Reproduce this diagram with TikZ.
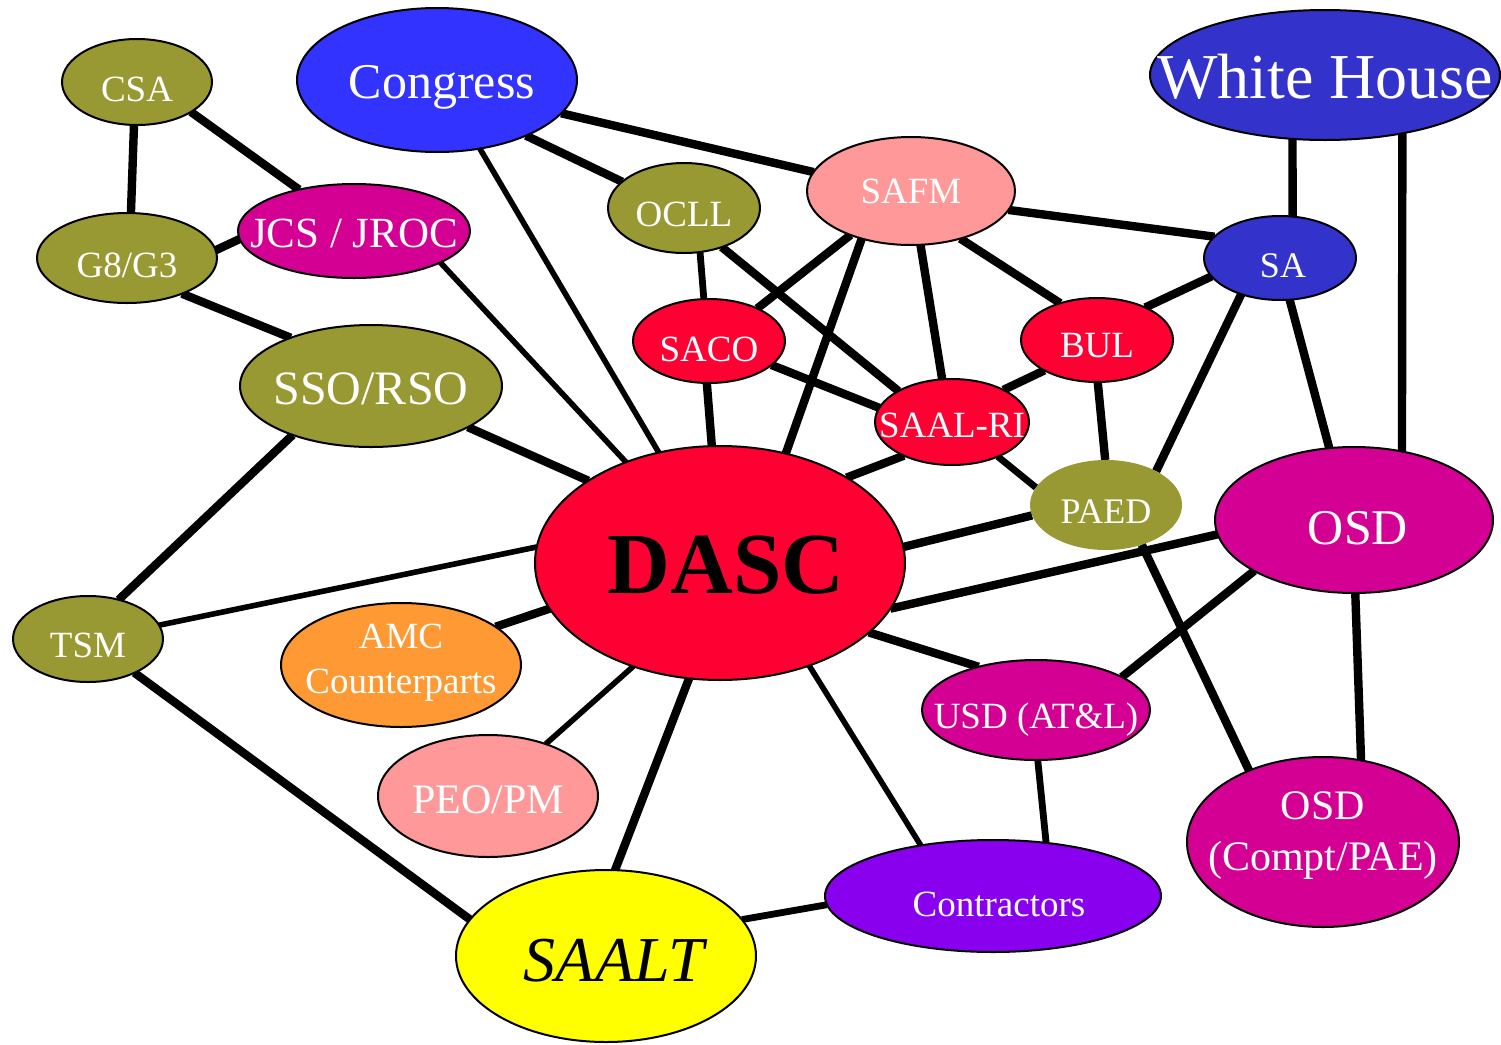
\documentclass[tikz,border=0pt]{standalone}
\usepackage{fontspec}
\setmainfont{Liberation Serif}
\usetikzlibrary{shapes.geometric,backgrounds}
\definecolor{colOlive}{HTML}{999933}
\definecolor{colCong}{HTML}{3333FF}
\definecolor{colWH}{HTML}{3333CC}
\definecolor{colMag}{HTML}{D40093}
\definecolor{colRed}{HTML}{FF0033}
\definecolor{colPink}{HTML}{FF9999}
\definecolor{colOrange}{HTML}{FF9933}
\definecolor{colPurple}{HTML}{8800EE}
\definecolor{colYellow}{HTML}{FFFF00}
\newcommand\lbl[2]{\raisebox{#1}[0pt][0pt]{\makebox[0pt]{#2}}}
\newcommand\fs[1]{\fontsize{#1}{#1}\selectfont}
\begin{document}
\begin{tikzpicture}[x=0.5pt,y=-0.5pt,
  ell/.style={ellipse,draw=black,line width=1pt,inner sep=0pt,outer sep=0pt,text=white},
  sm/.style={font=\fs{18.5pt}},
  thk/.style={line width=4.2pt},
  thn/.style={line width=2.8pt},
  mid/.style={line width=3.4pt}]
\useasboundingbox (0,0) rectangle (1501,1045);

% nodes
\node[ell,sm,fill=colOlive,minimum width=75pt,minimum height=43pt] (csa) at (137,82) {\lbl{-9.5pt}{CSA}};
\node[ell,fill=colCong,minimum width=140pt,minimum height=72pt,font=\fs{25pt}] (cong) at (437,80) {\lbl{-9pt}{\hspace{5pt}Congress}};
\node[ell,fill=colWH,minimum width=175pt,minimum height=65pt,font=\fs{32pt}] (wh) at (1325,75) {\lbl{-11.5pt}{White House}};
\node[ell,sm,fill=colOlive,minimum width=90pt,minimum height=45pt] (g8) at (127,258) {\lbl{-9.5pt}{G8/G3}};
\node[ell,fill=colMag,minimum width=116pt,minimum height=47pt,font=\fs{21.5pt}] (jcs) at (354,231) {\lbl{-8pt}{JCS / JROC}};
\node[ell,sm,fill=colOlive,minimum width=76pt,minimum height=45pt] (ocll) at (684,208) {\lbl{-9pt}{OCLL}};
\node[ell,sm,fill=colPink,minimum width=104pt,minimum height=54pt] (safm) at (911,191) {\lbl{-6pt}{SAFM}};
\node[ell,fill=colWH,minimum width=76pt,minimum height=42pt,font=\fs{18pt}] (sa) at (1280,258) {\lbl{-9.5pt}{\hspace{3pt}SA}};
\node[ell,sm,fill=colRed,minimum width=76pt,minimum height=42pt] (saco) at (709,341) {\lbl{-10pt}{SACO}};
\node[ell,sm,fill=colRed,minimum width=76pt,minimum height=42pt] (bul) at (1097,340) {\lbl{-8.5pt}{BUL}};
\node[ell,fill=colOlive,minimum width=131pt,minimum height=61pt,font=\fs{24pt}] (sso) at (371,386) {\lbl{-9pt}{SSO/RSO}};
\node[ell,sm,fill=colRed,minimum width=77pt,minimum height=43pt] (saal) at (952,422) {\lbl{-7.5pt}{SAAL-RI}};
\node[ell,sm,draw=none,fill=colOlive,minimum width=76pt,minimum height=45pt,font=\fs{18pt}] (paed) at (1106,505) {\lbl{-9pt}{PAED}};
\node[ell,fill=colRed,minimum width=185pt,minimum height=117pt,text=black,font=\fs{43.5pt}\bfseries] (dasc) at (720,563) {\lbl{-15pt}{\hspace{6pt}DASC}};
\node[ell,fill=colMag,minimum width=139pt,minimum height=73pt,font=\fs{25pt}] (osd) at (1354,520) {\lbl{-12pt}{\hspace{4pt}OSD}};
\node[ell,sm,fill=colOlive,minimum width=75pt,minimum height=43pt] (tsm) at (88,639) {\lbl{-9pt}{TSM}};
\node[ell,sm,fill=colOrange,minimum width=120pt,minimum height=62pt] (amc) at (401,665) {\lbl{8.5pt}{AMC}\lbl{-14pt}{Counterparts}};
\node[ell,sm,fill=colMag,minimum width=114pt,minimum height=50pt] (usd) at (1036,710) {\lbl{-9pt}{USD (AT\&L)}};
\node[ell,fill=colPink,minimum width=110pt,minimum height=61pt,font=\fs{21pt}] (peo) at (488,796) {\lbl{-8.5pt}{PEO/PM}};
\node[ell,fill=colMag,minimum width=136pt,minimum height=85pt,font=\fs{21pt}] (osdc) at (1323,842) {\lbl{11.5pt}{OSD}\lbl{-14pt}{(Compt/PAE)}};
\node[ell,sm,fill=colPurple,minimum width=168pt,minimum height=56pt] (contr) at (993,896) {\lbl{-10pt}{\hspace{6pt}Contractors}};
\node[ell,fill=colYellow,minimum width=150pt,minimum height=86pt,text=black,font=\fs{32pt}\itshape] (saalt) at (606,956) {\lbl{-12.5pt}{\hspace{8pt}SAALT}};

% connectors
\begin{pgfonlayer}{background}
\fill[white] (0,0) rectangle (1501,1045);
\draw[thk] (csa.-94) -- (g8.85);
\draw[thk] (csa.-29.5) -- (jcs.143);
\draw[thk] (g8.5) -- (jcs.184);
\draw[thk] (g8.-33) -- (sso.149);
\draw[thn] (jcs.-20) -- (dasc.133.5);
\draw[thn] (cong.-58) -- (dasc.119.6);
\draw[thk] (cong.-32) -- (ocll.157);
\draw[thk] (cong.-15) -- (safm.169);
\draw[mid] (ocll.-70) -- (saco.97);
\draw[thk] (ocll.-46) -- (saal.150);
\draw[thk] (safm.-144) -- (saco.34);
\draw[thk] (safm.-136) -- (dasc.59);
\draw[thk] (safm.-80.5) -- (saal.103);
\draw[thk] (safm.-44) -- (bul.135);
\draw[thk] (safm.-11) -- (sa.162);
\draw[thk] (wh.-117) -- (sa.73);
\draw[thk] (wh.-37.2) -- (osd.55);
\draw[thk] (sa.-165) -- (bul.34);
\draw[thk] (sa.-137) -- (paed.34);
\draw[thk] (sa.-77) -- (osd.109);
\draw[thk] (saco.-93) -- (dasc.94);
\draw[thk] (saco.-21.5) -- (saal.169);
\draw[thk] (bul.-150) -- (saal.32);
\draw[thk] (bul.-89) -- (paed.91);
\draw[thk] (saal.-145) -- (dasc.34.5);
\draw[mid] (saal.-37.5) -- (paed.166);
\draw[thk] (paed.-172.5) -- (dasc.5.6);
\draw[thk] (paed.-48) -- (osdc.136);
\draw[thk] (sso.-23) -- (dasc.148);
\draw[thk] (sso.-148) -- (tsm.52);
\draw[thn] (tsm.11) -- (dasc.175);
\draw[thk] (tsm.-36) -- (saalt.165);
\draw[thk] (amc.22) -- (dasc.-165);
\draw[thk] (osd.-174) -- (dasc.-15);
\draw[thk] (osd.-153) -- (usd.21);
\draw[thk] (osd.-89) -- (osdc.65);
\draw[thk] (dasc.-25) -- (usd.143);
\draw[thn] (dasc.-130.5) -- (peo.42);
\draw[thk] (dasc.-105.5) -- (saalt.84);
\draw[thn] (dasc.-49) -- (contr.145);
\draw[mid] (usd.-88) -- (contr.45.5);
\draw[mid] (saalt.15) -- (contr.-177.6);
\end{pgfonlayer}
\end{tikzpicture}
\end{document}
